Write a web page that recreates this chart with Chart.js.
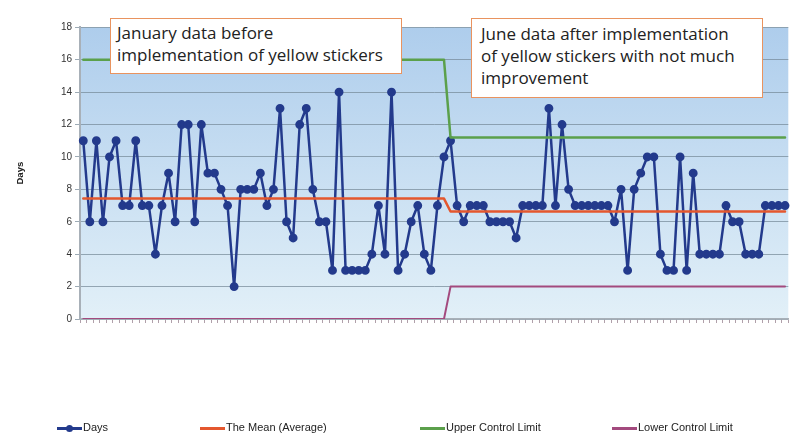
<!DOCTYPE html>
<html>
<head>
<meta charset="utf-8">
<script src="https://cdn.jsdelivr.net/npm/chart.js@4.4.0/dist/chart.umd.min.js"></script>
<style>
    body { margin: 0; background: #fff; }
    #wrap { position: relative; width: 794px; height: 445px; }
    .note {
        position: absolute; background: #fff; border: 1.5px solid #E9935F;
        font-family: "Open Sans", sans-serif; font-size: 17px; color: #222;
        box-sizing: border-box; line-height: 22px;
    }
    .leg { position: absolute; top: 421px; height: 14px; font-family: "Liberation Sans", Arial, sans-serif; font-size: 11px; color: #222; }
    .leg span.l { position: absolute; top: 6px; height: 2.5px; width: 25px; left: 0; }
    .leg span.t { position: absolute; left: 26px; top: 0; white-space: nowrap; }
    .leg span.d { position: absolute; left: 9px; top: 4px; width: 7px; height: 7px; border-radius: 50%; background: #233A8C; }
</style>
</head>
<body>
<div id="wrap">
    <canvas id="myChart"></canvas>
    <div class="note" style="left:110px;top:18px;width:292px;height:56px;padding:3px 0 0 6px;">January data before<br>implementation of yellow stickers</div>
    <div class="note" style="left:471px;top:18px;width:292px;height:80px;padding:4px 0 0 9px;">June data after implementation<br>of yellow stickers with not much<br>improvement</div>
    <div class="leg" style="left:57px;"><span class="l" style="background:#233A8C"></span><span class="d"></span><span class="t">Days</span></div>
    <div class="leg" style="left:200px;"><span class="l" style="background:#E4572E"></span><span class="t">The Mean (Average)</span></div>
    <div class="leg" style="left:420px;"><span class="l" style="background:#5BA04B"></span><span class="t">Upper Control Limit</span></div>
    <div class="leg" style="left:612px;"><span class="l" style="background:#A34A7E"></span><span class="t">Lower Control Limit</span></div>
</div>
<script>
// days per sample (56 in January, 52 in June)
const days = [
    11, 6, 11, 6, 10, 11, 7, 7, 11, 7, 7, 4, 7, 9, 6, 12, 12, 6, 12, 9,
    9, 8, 7, 2, 8, 8, 8, 9, 7, 8, 13, 6, 5, 12, 13, 8, 6, 6, 3, 14,
    3, 3, 3, 3, 4, 7, 4, 14, 3, 4, 6, 7, 4, 3, 7, 10,
    11, 7, 6, 7, 7, 7, 6, 6, 6, 6, 5, 7, 7, 7, 7, 13, 7, 12, 8, 7,
    7, 7, 7, 7, 7, 6, 8, 3, 8, 9, 10, 10, 4, 3, 3, 10, 3, 9, 4, 4,
    4, 4, 7, 6, 6, 4, 4, 4, 7, 7, 7, 7
];
const januaryCount = 56;
const juneCount = 52;
const meanJan = 7.43, meanJune = 6.63;
const uclJan = 16, uclJune = 11.2;
const lclJan = 0, lclJune = 2;
const yTicks = [0, 2, 4, 6, 8, 10, 12, 14, 16, 18];

const labels = days.map((d, i) => String(i + 1));
const twoPhase = (a, b) => Array(januaryCount).fill(a).concat(Array(juneCount).fill(b));

const bgPlugin = {
    id: 'plotBg',
    beforeDraw(chart) {
        const {ctx, chartArea: a} = chart;
        const g = ctx.createLinearGradient(0, a.top, 0, a.bottom);
        g.addColorStop(0, '#AECDEC');
        g.addColorStop(1, '#E2F0F8');
        ctx.save();
        ctx.fillStyle = g;
        ctx.fillRect(a.left, a.top, a.right - a.left, a.bottom - a.top);
        ctx.restore();
    }
};

const ctx = document.getElementById('myChart');
new Chart(ctx, {
    type: 'line',
    data: {
        labels: labels,
        datasets: [
            {label: 'Lower Control Limit', data: twoPhase(lclJan, lclJune), borderColor: '#A34A7E', borderWidth: 2, pointRadius: 0},
            {label: 'Upper Control Limit', data: twoPhase(uclJan, uclJune), borderColor: '#5BA04B', borderWidth: 2.5, pointRadius: 0},
            {label: 'The Mean (Average)', data: twoPhase(meanJan, meanJune), borderColor: '#E4572E', borderWidth: 2.5, pointRadius: 0},
            {label: 'Days', data: days, borderColor: '#233A8C', backgroundColor: '#233A8C', borderWidth: 2.5, pointRadius: 3.2, pointHoverRadius: 3.2}
        ]
    },
    options: {
        responsive: true,
        maintainAspectRatio: false,
        animation: false,
        events: [],
        layout: {padding: {left: 0, right: 3.4, top: 27.3, bottom: 0}},
        plugins: {legend: {display: false}, tooltip: {enabled: false}},
        elements: {line: {tension: 0, borderJoinStyle: 'round', borderCapStyle: 'round'}},
        scales: {
            x: {
                offset: true,
                afterFit: s => { s.height = 126; },
                ticks: {display: false, autoSkip: false},
                grid: {drawOnChartArea: false, drawTicks: true, tickLength: 4, color: '#B0A0AA', offset: true},
                border: {color: '#A8B0B8', width: 1.5}
            },
            y: {
                min: 0, max: 18,
                afterFit: s => { s.width = 80; },
                afterBuildTicks: s => { s.ticks = yTicks.map(v => ({value: v})); },
                ticks: {font: {family: 'Liberation Sans, Arial', size: 10}, color: '#333', padding: 3},
                grid: {color: 'rgba(115,135,150,0.7)', lineWidth: 1, tickLength: 5},
                border: {color: '#A8B0B8', width: 2},
                title: {display: true, text: 'Days', font: {family: 'Liberation Sans, Arial', size: 9.5, weight: 'bold'}, color: '#222', padding: {top: 15, bottom: 0}}
            }
        }
    },
    plugins: [bgPlugin]
});
</script>
</body>
</html>
